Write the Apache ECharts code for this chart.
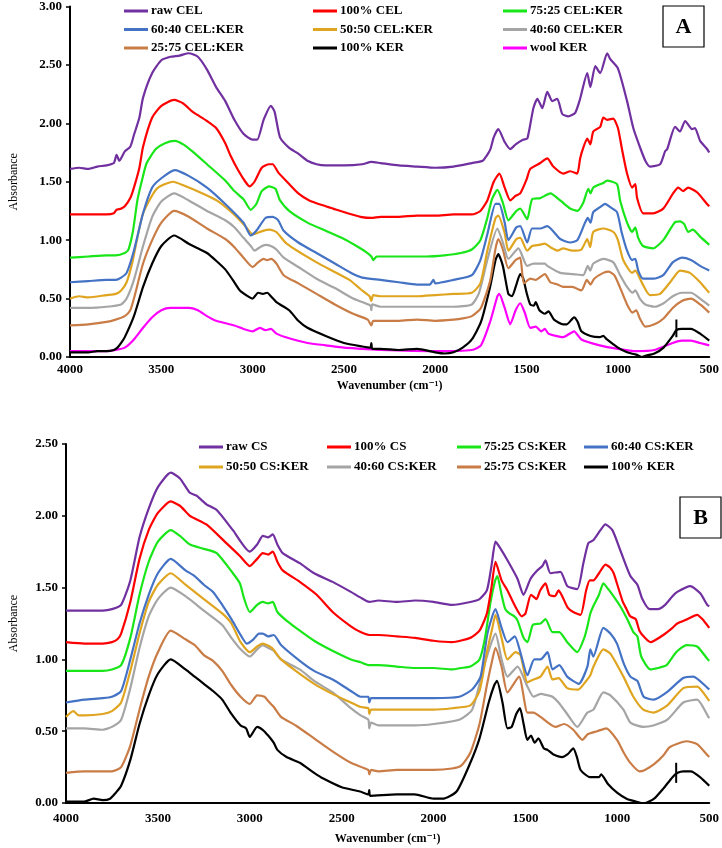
<!DOCTYPE html>
<html>
<head>
<meta charset="utf-8">
<script src="https://cdn.jsdelivr.net/npm/echarts@6.0.0/dist/echarts.min.js"></script>
<style>html,body{margin:0;padding:0;background:#fff}#chart{width:722px;height:848px}</style>
</head>
<body>
<div id="chart"></div>
<script>
// ---------- tick labels ----------
const xTicks = [4000, 3500, 3000, 2500, 2000, 1500, 1000, 500];
const yTicksA = [0, 0.5, 1, 1.5, 2, 2.5, 3];
const yTicksB = [0, 0.5, 1, 1.5, 2, 2.5];

// ---------- Panel A series: [wavenumber, absorbance] ----------
const rawCEL = [[4000,1.61],[3950,1.62],[3900,1.61],[3850,1.63],[3800,1.64],[3760,1.66],[3745,1.73],[3730,1.68],[3700,1.76],[3670,1.80],[3650,1.90],[3620,2.05],[3600,2.22],[3550,2.43],[3500,2.54],[3450,2.57],[3400,2.58],[3350,2.60],[3300,2.57],[3250,2.46],[3200,2.31],[3150,2.19],[3100,2.03],[3050,1.91],[3000,1.86],[2975,1.86],[2940,2.03],[2900,2.15],[2880,2.10],[2850,1.88],[2800,1.79],[2750,1.74],[2700,1.68],[2650,1.65],[2600,1.64],[2500,1.64],[2400,1.65],[2350,1.67],[2300,1.66],[2200,1.64],[2100,1.63],[2000,1.62],[1900,1.63],[1800,1.66],[1740,1.68],[1720,1.72],[1698,1.78],[1680,1.88],[1655,1.95],[1620,1.84],[1590,1.78],[1560,1.82],[1520,1.86],[1496,1.87],[1463,2.13],[1441,2.21],[1414,2.13],[1387,2.27],[1359,2.19],[1332,2.21],[1305,2.08],[1272,2.06],[1234,2.09],[1207,2.21],[1168,2.43],[1151,2.31],[1124,2.49],[1097,2.43],[1059,2.60],[1042,2.55],[1000,2.47],[950,2.19],[916,1.96],[878,1.79],[850,1.68],[824,1.63],[769,1.65],[742,1.76],[730,1.78],[687,1.97],[660,1.93],[632,2.02],[594,1.95],[578,1.96],[550,1.85],[512,1.78],[500,1.75]];
const cel100 = [[4000,1.22],[3900,1.22],[3800,1.22],[3760,1.23],[3745,1.26],[3720,1.27],[3700,1.29],[3670,1.36],[3650,1.45],[3620,1.62],[3600,1.80],[3550,2.05],[3500,2.15],[3430,2.20],[3380,2.17],[3330,2.10],[3300,2.07],[3250,2.02],[3200,1.96],[3150,1.83],[3120,1.72],[3080,1.60],[3040,1.50],[3016,1.46],[2990,1.50],[2950,1.62],[2910,1.65],[2890,1.65],[2860,1.58],[2800,1.48],[2750,1.40],[2690,1.34],[2600,1.29],[2560,1.27],[2480,1.23],[2410,1.20],[2350,1.19],[2300,1.20],[2200,1.20],[2100,1.21],[2000,1.21],[1900,1.22],[1800,1.22],[1753,1.25],[1715,1.34],[1680,1.50],[1649,1.57],[1620,1.45],[1589,1.34],[1560,1.38],[1535,1.40],[1500,1.52],[1480,1.61],[1425,1.66],[1387,1.70],[1354,1.63],[1300,1.57],[1261,1.59],[1223,1.57],[1207,1.70],[1190,1.79],[1168,1.87],[1151,1.82],[1135,1.93],[1097,1.97],[1080,2.05],[1059,2.03],[1026,2.04],[1000,1.96],[978,1.78],[950,1.57],[922,1.45],[905,1.48],[895,1.36],[862,1.23],[807,1.23],[752,1.27],[698,1.40],[670,1.45],[643,1.42],[616,1.45],[567,1.41],[512,1.31],[500,1.29]];
const cel75 = [[4000,0.85],[3900,0.86],[3800,0.87],[3750,0.87],[3700,0.89],[3680,0.92],[3655,1.08],[3630,1.35],[3600,1.55],[3580,1.66],[3530,1.78],[3480,1.83],[3426,1.85],[3380,1.82],[3330,1.76],[3250,1.65],[3150,1.51],[3100,1.42],[3050,1.35],[3010,1.26],[2980,1.31],[2950,1.42],[2910,1.46],[2875,1.44],[2850,1.34],[2800,1.25],[2700,1.15],[2600,1.08],[2500,1.01],[2420,0.94],[2380,0.90],[2350,0.86],[2340,0.83],[2320,0.86],[2250,0.86],[2150,0.86],[2050,0.86],[1950,0.87],[1860,0.89],[1800,0.92],[1753,1.00],[1715,1.19],[1690,1.35],[1660,1.43],[1630,1.32],[1600,1.17],[1556,1.25],[1535,1.27],[1497,1.18],[1470,1.35],[1425,1.36],[1370,1.40],[1316,1.34],[1261,1.27],[1222,1.25],[1190,1.32],[1162,1.44],[1150,1.40],[1135,1.45],[1080,1.49],[1060,1.51],[1005,1.48],[988,1.34],[950,1.15],[922,1.07],[905,1.11],[889,1.02],[862,0.95],[807,0.93],[752,1.00],[690,1.15],[660,1.16],[638,1.14],[615,1.07],[590,1.09],[550,1.03],[500,0.96]];
const cel60 = [[4000,0.64],[3900,0.65],[3800,0.66],[3750,0.66],[3720,0.68],[3690,0.72],[3650,0.91],[3600,1.23],[3550,1.45],[3500,1.53],[3426,1.60],[3350,1.55],[3250,1.45],[3150,1.31],[3050,1.15],[3010,1.04],[2980,1.08],[2930,1.19],[2890,1.20],[2860,1.17],[2830,1.08],[2750,0.98],[2650,0.89],[2550,0.80],[2450,0.71],[2400,0.68],[2300,0.66],[2200,0.64],[2100,0.62],[2030,0.62],[2010,0.66],[2000,0.63],[1900,0.66],[1800,0.70],[1753,0.83],[1715,1.05],[1670,1.31],[1650,1.31],[1620,1.15],[1600,1.00],[1556,1.11],[1535,1.12],[1497,0.98],[1470,1.10],[1425,1.10],[1387,1.12],[1316,1.01],[1261,0.98],[1222,1.00],[1180,1.15],[1165,1.19],[1150,1.15],[1135,1.24],[1100,1.28],[1070,1.31],[1040,1.28],[1005,1.24],[980,1.07],[950,0.91],[922,0.83],[905,0.84],[889,0.74],[862,0.67],[807,0.67],[752,0.70],[700,0.81],[650,0.85],[600,0.83],[550,0.78],[500,0.74]];
const cel50 = [[4000,0.50],[3950,0.52],[3900,0.51],[3800,0.53],[3750,0.54],[3720,0.57],[3690,0.64],[3660,0.80],[3634,1.00],[3600,1.23],[3525,1.44],[3436,1.50],[3380,1.47],[3289,1.41],[3197,1.34],[3109,1.23],[3040,1.12],[3000,1.05],[2944,1.08],[2907,1.09],[2870,1.07],[2814,0.97],[2650,0.81],[2470,0.66],[2409,0.58],[2360,0.52],[2350,0.48],[2340,0.53],[2300,0.52],[2200,0.52],[2100,0.52],[2000,0.53],[1900,0.54],[1800,0.55],[1753,0.63],[1715,0.91],[1670,1.19],[1655,1.21],[1620,1.06],[1600,0.91],[1556,1.01],[1535,1.02],[1497,0.91],[1470,0.95],[1430,0.96],[1400,0.97],[1370,0.94],[1330,0.91],[1300,0.93],[1250,0.91],[1200,0.92],[1168,1.01],[1152,0.94],[1135,1.07],[1080,1.10],[1025,1.07],[1000,1.00],[971,0.83],[922,0.72],[905,0.74],[867,0.63],[825,0.53],[770,0.54],[714,0.64],[660,0.74],[606,0.72],[550,0.64],[506,0.56],[500,0.55]];
const cel40 = [[4000,0.42],[3900,0.42],[3800,0.43],[3720,0.45],[3690,0.50],[3650,0.66],[3600,0.95],[3550,1.20],[3500,1.33],[3430,1.40],[3350,1.34],[3250,1.25],[3150,1.17],[3100,1.11],[3050,1.02],[3010,0.95],[2990,0.91],[2960,0.94],[2930,0.96],[2900,0.95],[2870,0.92],[2830,0.85],[2750,0.77],[2650,0.67],[2550,0.59],[2450,0.50],[2400,0.47],[2355,0.44],[2350,0.40],[2345,0.45],[2300,0.43],[2200,0.43],[2100,0.43],[2000,0.43],[1900,0.43],[1800,0.45],[1760,0.55],[1715,0.83],[1660,1.10],[1630,0.98],[1600,0.84],[1545,0.93],[1497,0.78],[1463,0.80],[1400,0.80],[1387,0.78],[1316,0.72],[1245,0.71],[1190,0.70],[1165,0.78],[1152,0.74],[1135,0.80],[1080,0.84],[1025,0.81],[988,0.70],[950,0.60],[920,0.55],[905,0.57],[880,0.50],[850,0.45],[800,0.43],[750,0.46],[700,0.52],[650,0.55],[600,0.55],[550,0.50],[500,0.44]];
const cel25 = [[4000,0.27],[3900,0.28],[3800,0.30],[3750,0.32],[3700,0.35],[3670,0.40],[3650,0.50],[3600,0.80],[3550,1.00],[3500,1.15],[3430,1.25],[3350,1.20],[3250,1.10],[3150,1.01],[3100,0.94],[3050,0.85],[3000,0.77],[2970,0.81],[2940,0.84],[2920,0.83],[2900,0.84],[2870,0.80],[2830,0.70],[2750,0.63],[2650,0.54],[2550,0.45],[2450,0.37],[2370,0.32],[2350,0.27],[2340,0.31],[2300,0.31],[2200,0.31],[2100,0.32],[2000,0.31],[1900,0.32],[1850,0.33],[1800,0.35],[1750,0.42],[1700,0.65],[1670,0.93],[1655,1.01],[1630,0.92],[1600,0.76],[1560,0.83],[1535,0.85],[1515,0.63],[1480,0.67],[1450,0.66],[1400,0.71],[1370,0.64],[1330,0.62],[1300,0.60],[1250,0.60],[1200,0.57],[1170,0.66],[1150,0.62],[1130,0.67],[1080,0.72],[1050,0.73],[1020,0.70],[990,0.60],[950,0.45],[920,0.38],[900,0.40],[880,0.33],[850,0.26],[800,0.28],[750,0.33],[700,0.42],[650,0.48],[600,0.50],[550,0.45],[500,0.38]];
const kerA = [[4000,0.04],[3900,0.04],[3850,0.05],[3800,0.05],[3760,0.06],[3740,0.08],[3720,0.12],[3700,0.17],[3650,0.35],[3600,0.60],[3550,0.80],[3500,0.95],[3430,1.04],[3350,0.97],[3300,0.93],[3250,0.89],[3197,0.82],[3150,0.75],[3109,0.66],[3070,0.57],[3016,0.51],[3000,0.50],[2970,0.55],[2944,0.54],[2920,0.55],[2900,0.52],[2870,0.47],[2800,0.40],[2750,0.31],[2700,0.25],[2600,0.18],[2500,0.12],[2400,0.09],[2355,0.08],[2350,0.12],[2345,0.07],[2300,0.07],[2200,0.06],[2100,0.07],[2000,0.04],[1950,0.03],[1900,0.04],[1850,0.08],[1800,0.15],[1750,0.30],[1700,0.60],[1670,0.83],[1655,0.88],[1630,0.78],[1600,0.54],[1580,0.52],[1560,0.60],[1535,0.71],[1520,0.68],[1500,0.55],[1480,0.45],[1460,0.44],[1450,0.47],[1430,0.40],[1400,0.37],[1380,0.39],[1350,0.32],[1300,0.28],[1280,0.28],[1240,0.34],[1220,0.30],[1200,0.22],[1150,0.18],[1100,0.17],[1080,0.18],[1060,0.15],[1000,0.08],[950,0.04],[900,0.02],[870,0.00],[850,0.01],[800,0.03],[750,0.08],[700,0.18],[680,0.23],[650,0.24],[600,0.24],[550,0.20],[500,0.14]];
const woolKER = [[4000,0.05],[3800,0.05],[3750,0.06],[3700,0.08],[3650,0.15],[3600,0.25],[3550,0.34],[3500,0.40],[3450,0.42],[3350,0.42],[3300,0.40],[3250,0.35],[3200,0.31],[3100,0.27],[3050,0.24],[3000,0.22],[2960,0.25],[2930,0.23],[2900,0.24],[2870,0.20],[2800,0.16],[2700,0.12],[2600,0.10],[2500,0.08],[2400,0.07],[2300,0.06],[2000,0.05],[1800,0.06],[1750,0.10],[1700,0.30],[1660,0.52],[1650,0.54],[1620,0.42],[1590,0.28],[1560,0.40],[1535,0.46],[1510,0.38],[1480,0.25],[1450,0.26],[1420,0.22],[1400,0.24],[1380,0.20],[1300,0.17],[1240,0.22],[1200,0.15],[1100,0.10],[1000,0.07],[900,0.05],[800,0.06],[700,0.12],[650,0.14],[600,0.14],[550,0.12],[500,0.10]];
const markA = [[680,0.17],[680,0.32]];

// ---------- Panel B series ----------
const rawCS = [[4000,1.34],[3900,1.34],[3800,1.34],[3750,1.35],[3700,1.38],[3650,1.55],[3600,1.85],[3550,2.05],[3500,2.20],[3430,2.30],[3380,2.26],[3326,2.16],[3290,2.14],[3236,2.08],[3180,2.04],[3092,1.90],[3000,1.75],[2960,1.80],[2929,1.86],[2900,1.85],[2875,1.87],[2850,1.80],[2821,1.74],[2728,1.67],[2650,1.60],[2549,1.54],[2450,1.47],[2397,1.43],[2350,1.40],[2300,1.41],[2200,1.40],[2100,1.41],[2000,1.40],[1900,1.38],[1800,1.40],[1750,1.42],[1710,1.48],[1685,1.65],[1663,1.82],[1640,1.78],[1598,1.69],[1543,1.56],[1511,1.45],[1473,1.56],[1435,1.62],[1408,1.65],[1391,1.69],[1364,1.60],[1310,1.61],[1272,1.51],[1218,1.49],[1185,1.67],[1158,1.81],[1131,1.83],[1092,1.90],[1065,1.94],[1027,1.90],[984,1.76],[929,1.58],[891,1.52],[864,1.42],[825,1.35],[780,1.35],[740,1.38],[700,1.44],[674,1.47],[603,1.51],[549,1.46],[511,1.38],[500,1.37]];
const cs100 = [[4000,1.12],[3900,1.11],[3800,1.11],[3750,1.12],[3720,1.14],[3700,1.18],[3650,1.40],[3600,1.70],[3550,1.90],[3500,2.02],[3430,2.10],[3380,2.07],[3326,2.00],[3236,1.94],[3128,1.81],[3054,1.72],[3000,1.65],[2960,1.70],[2929,1.74],[2900,1.73],[2875,1.75],[2850,1.68],[2821,1.62],[2728,1.54],[2636,1.45],[2549,1.33],[2450,1.23],[2397,1.19],[2350,1.17],[2300,1.17],[2200,1.16],[2100,1.15],[2000,1.13],[1900,1.12],[1800,1.15],[1750,1.20],[1710,1.32],[1685,1.50],[1663,1.68],[1630,1.55],[1598,1.48],[1560,1.38],[1520,1.30],[1500,1.32],[1470,1.45],[1440,1.42],[1420,1.48],[1391,1.53],[1370,1.45],[1340,1.44],[1320,1.48],[1300,1.44],[1270,1.36],[1240,1.33],[1200,1.31],[1170,1.48],[1150,1.55],[1130,1.55],[1100,1.60],[1065,1.66],[1040,1.64],[1020,1.60],[1000,1.52],[970,1.40],[950,1.35],[930,1.30],[900,1.28],[880,1.20],[850,1.15],[820,1.12],[800,1.13],[750,1.17],[700,1.22],[674,1.25],[620,1.28],[566,1.31],[530,1.27],[500,1.22]];
const cs75 = [[4000,0.92],[3900,0.92],[3800,0.92],[3750,0.93],[3700,0.96],[3650,1.15],[3600,1.45],[3550,1.68],[3500,1.82],[3430,1.90],[3380,1.86],[3326,1.80],[3250,1.77],[3180,1.74],[3092,1.60],[3054,1.53],[3030,1.42],[3000,1.33],[2960,1.38],[2929,1.40],[2900,1.39],[2875,1.40],[2850,1.33],[2800,1.27],[2728,1.20],[2650,1.13],[2550,1.06],[2450,1.00],[2397,0.98],[2350,0.96],[2300,0.96],[2200,0.95],[2100,0.94],[2000,0.94],[1900,0.93],[1853,0.94],[1800,0.95],[1750,1.00],[1720,1.15],[1690,1.40],[1665,1.55],[1653,1.58],[1630,1.45],[1610,1.35],[1587,1.32],[1560,1.30],[1543,1.27],[1510,1.15],[1489,1.12],[1460,1.24],[1418,1.25],[1391,1.28],[1353,1.19],[1316,1.19],[1273,1.12],[1218,1.05],[1180,1.15],[1163,1.23],[1147,1.32],[1131,1.37],[1100,1.45],[1076,1.53],[1050,1.49],[1038,1.47],[1010,1.42],[984,1.37],[946,1.28],[913,1.19],[891,1.16],[870,1.02],[820,0.93],[780,0.94],[732,0.96],[680,1.05],[623,1.10],[566,1.09],[508,1.00],[500,0.99]];
const cs60 = [[4000,0.70],[3900,0.72],[3800,0.73],[3750,0.74],[3700,0.78],[3650,1.00],[3600,1.25],[3550,1.45],[3500,1.60],[3430,1.70],[3350,1.62],[3300,1.58],[3250,1.52],[3200,1.47],[3150,1.38],[3100,1.28],[3050,1.17],[3016,1.11],[2980,1.14],[2950,1.18],[2929,1.18],[2900,1.16],[2870,1.17],[2830,1.10],[2728,0.99],[2650,0.92],[2549,0.86],[2450,0.78],[2397,0.74],[2355,0.74],[2350,0.70],[2340,0.73],[2200,0.73],[2000,0.73],[1860,0.74],[1790,0.79],[1744,0.88],[1707,1.18],[1663,1.35],[1630,1.22],[1598,1.12],[1558,1.16],[1530,1.06],[1489,0.89],[1452,1.00],[1418,1.00],[1380,1.05],[1353,0.93],[1316,0.96],[1273,0.88],[1210,0.83],[1163,0.95],[1147,1.07],[1131,1.02],[1076,1.22],[1038,1.18],[1002,1.11],[965,0.97],[929,0.88],[891,0.85],[857,0.74],[802,0.72],[732,0.77],[642,0.87],[587,0.88],[508,0.80],[500,0.79]];
const cs50 = [[4000,0.60],[3960,0.64],[3930,0.61],[3900,0.61],[3800,0.62],[3750,0.64],[3700,0.70],[3650,0.92],[3600,1.18],[3550,1.40],[3500,1.52],[3430,1.60],[3350,1.52],[3250,1.42],[3150,1.32],[3100,1.25],[3050,1.12],[3000,1.05],[2960,1.09],[2930,1.11],[2880,1.08],[2830,1.00],[2750,0.92],[2650,0.83],[2550,0.76],[2450,0.70],[2400,0.67],[2355,0.66],[2350,0.62],[2340,0.65],[2300,0.65],[2200,0.65],[2000,0.65],[1900,0.66],[1800,0.68],[1750,0.78],[1710,1.05],[1680,1.22],[1663,1.31],[1630,1.15],[1598,1.00],[1554,1.05],[1527,1.03],[1489,0.84],[1456,0.86],[1418,0.88],[1380,0.95],[1353,0.86],[1320,0.87],[1273,0.80],[1212,0.79],[1170,0.85],[1147,0.89],[1130,0.95],[1076,1.07],[1038,1.04],[967,0.88],[913,0.74],[859,0.65],[804,0.63],[728,0.68],[641,0.80],[566,0.81],[505,0.72],[500,0.71]];
const cs40 = [[4000,0.52],[3900,0.52],[3800,0.51],[3750,0.53],[3700,0.58],[3650,0.80],[3600,1.08],[3550,1.30],[3500,1.42],[3430,1.50],[3350,1.44],[3250,1.34],[3150,1.24],[3100,1.15],[3050,1.07],[3000,1.02],[2960,1.07],[2930,1.10],[2900,1.08],[2870,1.06],[2830,1.00],[2728,0.93],[2650,0.85],[2549,0.77],[2450,0.66],[2397,0.61],[2355,0.58],[2350,0.52],[2340,0.56],[2300,0.54],[2200,0.54],[2100,0.54],[2000,0.55],[1860,0.58],[1790,0.65],[1726,0.95],[1690,1.10],[1663,1.18],[1630,1.00],[1598,0.88],[1543,0.95],[1489,0.81],[1456,0.74],[1418,0.76],[1380,0.75],[1353,0.74],[1320,0.70],[1273,0.62],[1218,0.53],[1163,0.63],[1130,0.65],[1076,0.77],[1038,0.75],[967,0.65],[929,0.56],[859,0.53],[804,0.54],[728,0.58],[641,0.70],[566,0.72],[505,0.60],[500,0.59]];
const cs25 = [[4000,0.21],[3900,0.22],[3800,0.22],[3750,0.22],[3700,0.25],[3650,0.40],[3600,0.65],[3550,0.88],[3500,1.05],[3430,1.20],[3350,1.14],[3300,1.10],[3250,1.03],[3200,0.99],[3150,0.92],[3100,0.82],[3050,0.74],[3000,0.69],[2960,0.75],[2920,0.74],[2900,0.71],[2870,0.67],[2830,0.60],[2750,0.54],[2650,0.45],[2550,0.36],[2450,0.28],[2355,0.23],[2350,0.20],[2340,0.23],[2300,0.22],[2200,0.23],[2100,0.23],[2000,0.23],[1900,0.24],[1850,0.26],[1800,0.35],[1750,0.55],[1710,0.82],[1680,1.00],[1663,1.08],[1630,0.95],[1598,0.77],[1535,0.88],[1489,0.63],[1456,0.63],[1418,0.60],[1337,0.53],[1290,0.55],[1240,0.51],[1190,0.44],[1160,0.48],[1110,0.50],[1060,0.52],[1002,0.44],[965,0.35],[930,0.28],[880,0.22],[850,0.23],[800,0.27],[750,0.33],[714,0.39],[623,0.43],[566,0.41],[508,0.33],[500,0.32]];
const kerB = [[4000,0.01],[3900,0.01],[3850,0.03],[3800,0.02],[3760,0.03],[3730,0.07],[3700,0.12],[3650,0.30],[3600,0.55],[3550,0.75],[3500,0.90],[3430,1.00],[3350,0.93],[3300,0.88],[3250,0.83],[3200,0.78],[3150,0.72],[3100,0.62],[3050,0.54],[3020,0.52],[3000,0.46],[2960,0.53],[2930,0.51],[2900,0.47],[2870,0.42],[2850,0.37],[2800,0.32],[2728,0.28],[2650,0.21],[2600,0.17],[2500,0.11],[2400,0.08],[2355,0.06],[2350,0.09],[2345,0.05],[2200,0.06],[2103,0.06],[2000,0.03],[1950,0.03],[1875,0.08],[1800,0.28],[1750,0.45],[1700,0.70],[1670,0.82],[1655,0.85],[1625,0.70],[1598,0.52],[1575,0.53],[1550,0.62],[1530,0.66],[1510,0.55],[1490,0.44],[1470,0.47],[1450,0.42],[1430,0.45],[1400,0.38],[1380,0.37],[1350,0.34],[1300,0.32],[1270,0.34],[1240,0.38],[1220,0.32],[1200,0.23],[1150,0.18],[1100,0.18],[1088,0.20],[1050,0.13],[1000,0.07],[950,0.03],[900,0.01],[870,0.00],[850,0.00],[800,0.03],[750,0.10],[700,0.18],[672,0.21],[640,0.22],[600,0.22],[550,0.18],[500,0.12]];
const markB = [[680,0.14],[680,0.28]];

// ---------- names & colours ----------
const namesA = ['raw CEL','100% CEL','75:25 CEL:KER','60:40 CEL:KER','50:50 CEL:KER','40:60 CEL:KER','25:75 CEL:KER','100% KER','wool KER'];
const dataA = [rawCEL, cel100, cel75, cel60, cel50, cel40, cel25, kerA, woolKER];
const namesB = ['raw CS','100% CS','75:25 CS:KER','60:40 CS:KER','50:50 CS:KER','40:60 CS:KER','25:75 CS:KER','100% KER'];
const dataB = [rawCS, cs100, cs75, cs60, cs50, cs40, cs25, kerB];
const colors = ['#7030A0','#FF0000','#19E619','#4472C4','#E0A520','#A5A5A5','#C97C45','#000000','#FF00FF'];

const FONT = "'Liberation Serif','DejaVu Serif',serif";

function mkSeries(names, datas, idx) {
  return names.map((n, i) => ({
    name: n, type: 'line', xAxisIndex: idx, yAxisIndex: idx,
    data: datas[i], showSymbol: false, smooth: 0.2,
    lineStyle: { width: 2.2, color: colors[i] }, itemStyle: { color: colors[i] },
    z: 2 + (names.length - i), animation: false
  }));
}
function markSeries(d, idx) {
  return { type: 'line', xAxisIndex: idx, yAxisIndex: idx, data: d, showSymbol: false,
    lineStyle: { width: 2, color: '#000' }, animation: false, silent: true, z: 20 };
}

function xAxisDef(gi, margin, gap) {
  return {
    type: 'value', gridIndex: gi, min: 500, max: 4000, interval: 500, inverse: true,
    axisLine: { show: true, onZero: false, lineStyle: { color: '#000', width: 2 } },
    axisTick: { show: false }, splitLine: { show: false },
    axisLabel: { color: '#000', fontFamily: FONT, fontWeight: 'bold', fontSize: 13, margin: margin,
      formatter: v => xTicks.includes(v) ? String(v) : '' },
    name: 'Wavenumber (cm\u207B\u00B9)', nameLocation: 'middle', nameGap: gap,
    nameTextStyle: { color: '#000', fontFamily: FONT, fontWeight: 'bold', fontSize: 12 }
  };
}
function yAxisDef(gi, max, ticks, gap) {
  return {
    type: 'value', gridIndex: gi, min: 0, max: max, interval: 0.5,
    axisLine: { show: true, lineStyle: { color: '#000', width: 2 } },
    axisTick: { show: true, length: 4, lineStyle: { color: '#000', width: 1.5 } },
    splitLine: { show: false },
    axisLabel: { color: '#000', fontFamily: FONT, fontWeight: 'bold', fontSize: 13, margin: 8,
      formatter: v => ticks.some(t => Math.abs(t - v) < 1e-9) ? v.toFixed(2) : '' },
    name: 'Absorbance', nameLocation: 'middle', nameRotate: 90, nameGap: gap,
    nameTextStyle: { color: '#000', fontFamily: FONT, fontSize: 12 }
  };
}
function legendCol(left, top, gap, data) {
  return { data: data, orient: 'vertical', left: left, top: top, padding: 0, itemGap: gap,
    itemWidth: 24, itemHeight: 3, icon: 'rect', selectedMode: false,
    textStyle: { color: '#000', fontFamily: FONT, fontWeight: 'bold', fontSize: 13, lineHeight: 14, padding: [0,0,0,-2] } };
}

const option = {
  backgroundColor: '#fff',
  animation: false,
  grid: [
    { left: 70, top: 5, width: 640, height: 352 },
    { left: 66, top: 444, width: 644, height: 359 }
  ],
  xAxis: [xAxisDef(0, 6, 23), xAxisDef(1, 9, 30)],
  yAxis: [yAxisDef(0, 3, yTicksA, 50), yAxisDef(1, 2.5, yTicksB, 46)],
  legend: [
    legendCol(124, 4, 4.5, [namesA[0], namesA[3], namesA[6]]),
    legendCol(313, 4, 4.5, [namesA[1], namesA[4], namesA[7]]),
    legendCol(503, 4, 4.5, [namesA[2], namesA[5], namesA[8]]),
    legendCol(199, 440, 6, [namesB[0], namesB[4]]),
    legendCol(327, 440, 6, [namesB[1], namesB[5]]),
    legendCol(457, 440, 6, [namesB[2], namesB[6]]),
    legendCol(584, 440, 6, [namesB[3], namesB[7]])
  ],
  graphic: [
    { type: 'rect', shape: { x: 663, y: 6, width: 41, height: 41 }, style: { fill: '#fff', stroke: '#000', lineWidth: 1.2 }, z: 100 },
    { type: 'text', x: 683.5, y: 27, style: { text: 'A', fontFamily: FONT, fontWeight: 'bold', fontSize: 22, fill: '#000', align: 'center', verticalAlign: 'middle' }, z: 101 },
    { type: 'rect', shape: { x: 680, y: 497, width: 41, height: 41 }, style: { fill: '#fff', stroke: '#000', lineWidth: 1.2 }, z: 100 },
    { type: 'text', x: 700.5, y: 518, style: { text: 'B', fontFamily: FONT, fontWeight: 'bold', fontSize: 22, fill: '#000', align: 'center', verticalAlign: 'middle' }, z: 101 }
  ],
  series: [].concat(mkSeries(namesA, dataA, 0), [markSeries(markA, 0)], mkSeries(namesB, dataB, 1), [markSeries(markB, 1)])
};

const chart = echarts.init(document.getElementById('chart'), null, { renderer: 'canvas' });
chart.setOption(option);
</script>
</body>
</html>
